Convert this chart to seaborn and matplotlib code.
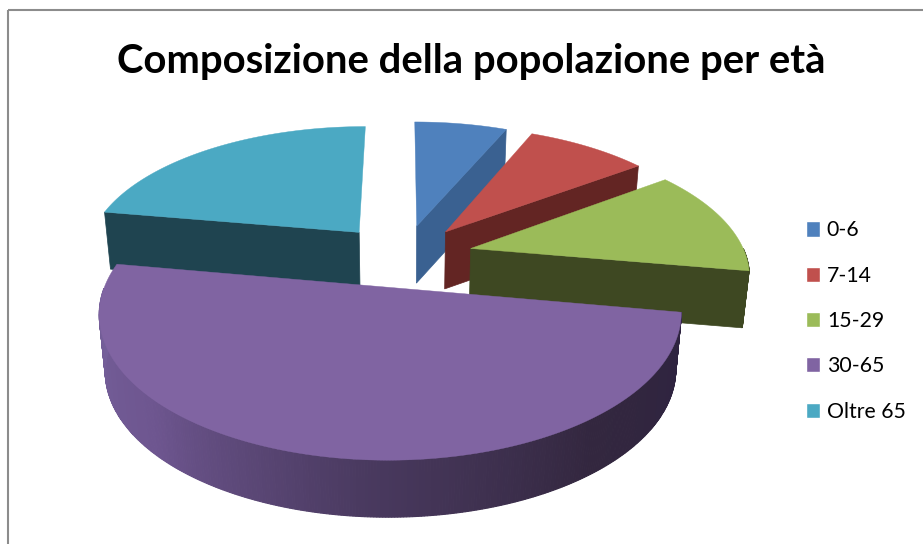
"""Exploded 3D pie of the population by age, drawn with a small perspective projection."""

import matplotlib

matplotlib.use("Agg")

import matplotlib.pyplot as plt
import numpy as np
import seaborn as sns
from matplotlib.patches import Patch, Rectangle

LABELS = ["0-6", "7-14", "15-29", "30-65", "Oltre 65"]
SHARES = [6.5, 8.5, 12.7, 50.0, 22.3]
TOP_COLORS = ["#4F81BD", "#C0504D", "#9BBB59", "#8064A2", "#4BA9C3"]
SIDE_COLORS = ["#3A6191", "#632523", "#3E4822", "#5E4A7A", "#1F4450"]
RIM_SHADES = ["#2E2340", "#33273F", "#4A3A60", "#6E5690", "#75609A"]
TITLE = "Composizione della popolazione per età"

# projection settings, in pixels of the 923x544 picture
CX, CY = 403, 255.5
RX, RY = 275, 131
PERSP = 0.17
EXPLODE_X = 0.255
EXPLODE_Y = 0.238
DEPTH = 57
SHRINK = 0.00035  # lower edge of the disc is a little narrower


def project(x, y, z=0.0):
    w = 1 + PERSP * y
    return CX + RX * x / w * (1 - SHRINK * z), CY - RY * y / w + z


def rim_point(angle, mid, radius=1.0, z=0.0):
    x = radius * np.sin(angle) + EXPLODE_X * np.sin(mid)
    y = radius * np.cos(angle) + EXPLODE_Y * np.cos(mid)
    return project(x, y, z)


def draw_wedge(ax, start, stop, top, side, shaded=False):
    mid = (start + stop) / 2
    arc = np.linspace(start, stop, 360)
    apex = rim_point(0, mid, radius=0)
    apex_low = rim_point(0, mid, radius=0, z=DEPTH)

    # radial faces turned to the viewer
    if np.sin(start) < -1e-6:
        pts = [apex, rim_point(start, mid), rim_point(start, mid, z=DEPTH), apex_low]
        ax.fill(*zip(*pts), color=side, lw=0.5)
    if np.sin(stop) > 1e-6:
        pts = [apex, rim_point(stop, mid), rim_point(stop, mid, z=DEPTH), apex_low]
        ax.fill(*zip(*pts), color=side, lw=0.5)

    # outer rim, only the front half shows
    front = arc[np.cos(arc) < 0]
    if len(front) > 1:
        stops = RIM_SHADES if shaded else [side, side]
        shades = sns.blend_palette(stops, n_colors=len(front) - 1)
        for a, b, shade in zip(front[:-1], front[1:], shades):
            pts = [
                rim_point(a, mid),
                rim_point(b, mid),
                rim_point(b, mid, z=DEPTH),
                rim_point(a, mid, z=DEPTH),
            ]
            ax.fill(*zip(*pts), color=shade, lw=0.8)

    pts = [apex] + [rim_point(a, mid) for a in arc]
    ax.fill(*zip(*pts), color=top, lw=0.3)


def main() -> None:
    sns.set_theme(style="white")
    plt.rcParams["font.family"] = ["Lato", "DejaVu Sans"]

    fig = plt.figure(figsize=(9.23, 5.44), dpi=100)
    ax = fig.add_axes([0, 0, 1, 1])
    ax.set_xlim(0, 923)
    ax.set_ylim(544, 0)
    ax.axis("off")

    # only the top and left of the chart frame fall inside the picture
    ax.add_patch(Rectangle((8, 10), 1000, 600, fill=False, ec="#8C8C8C", lw=1.5))

    edges = np.radians(np.cumsum([0] + SHARES) * 3.6)
    wedges = list(zip(edges[:-1], edges[1:], TOP_COLORS, SIDE_COLORS))
    # far slices first, the big front slice goes last
    for i in [4, 0, 1, 2, 3]:
        draw_wedge(ax, *wedges[i], shaded=i == 3)

    ax.text(471, 61, TITLE, ha="center", va="center", fontsize=28.8, fontweight="bold", color="black")

    handles = [Patch(facecolor=c, label=l) for c, l in zip(TOP_COLORS, LABELS)]
    ax.legend(
        handles=handles,
        loc="center left",
        bbox_to_anchor=(806 / 923, 1 - 321 / 544),
        frameon=False,
        fontsize=15.3,
        labelspacing=1.19,
        handlelength=0.68,
        handleheight=0.72,
        handletextpad=0.3,
        borderpad=0,
        borderaxespad=0,
        labelcolor="black",
    )

    fig.savefig("out.png", dpi=100)
    plt.close(fig)


if __name__ == "__main__":
    main()
